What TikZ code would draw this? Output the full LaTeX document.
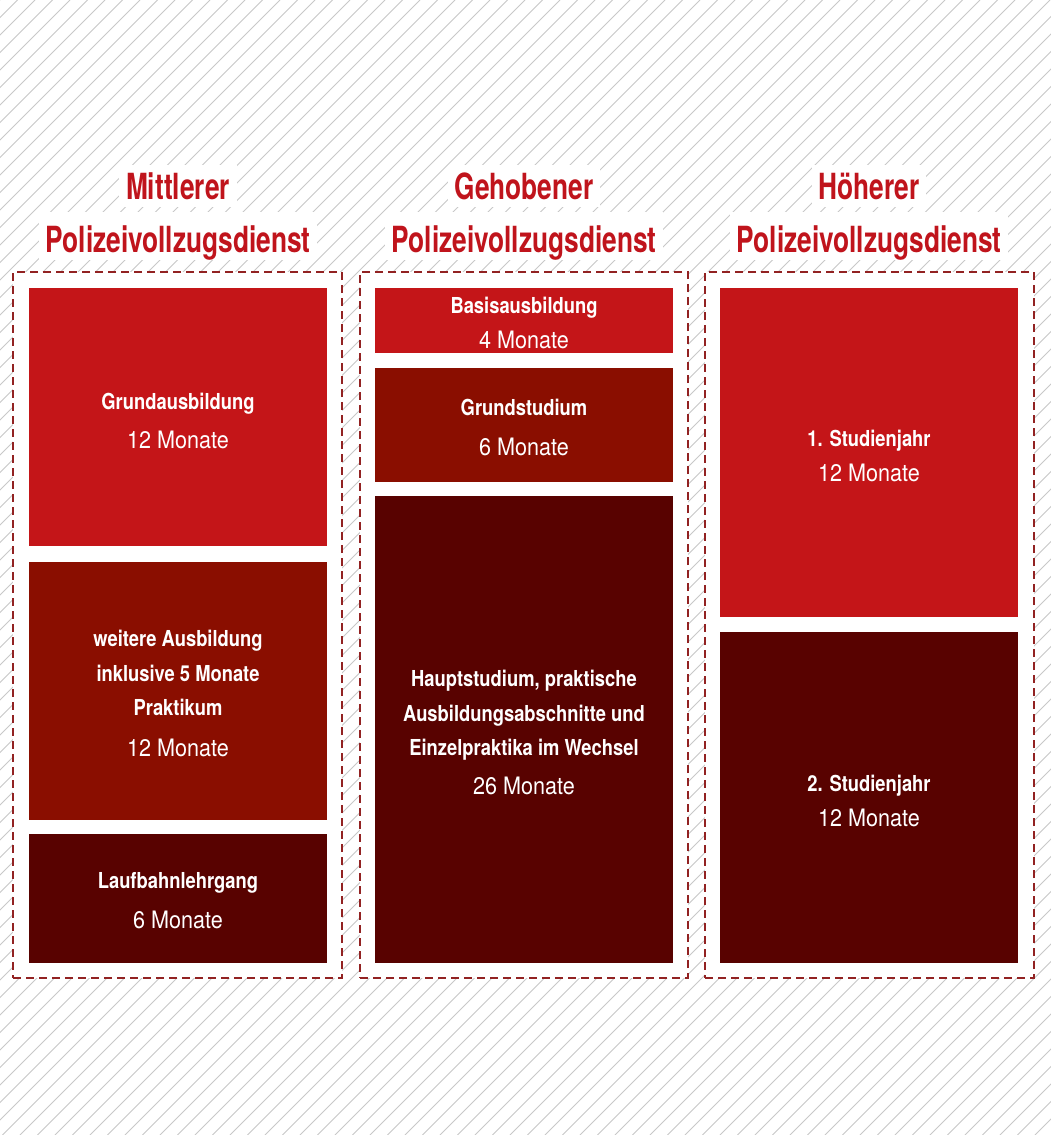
\documentclass[tikz,border=0pt]{standalone}
\usepackage{fontspec}
\newfontfamily\hdfont[FakeStretch=0.73]{TeX Gyre Heros}
\newfontfamily\lbfont[FakeStretch=0.835]{TeX Gyre Heros}
\newfontfamily\mofont[FakeStretch=0.90]{TeX Gyre Heros}
\definecolor{cA}{HTML}{C41518}
\definecolor{cB}{HTML}{8A0E00}
\definecolor{cC}{HTML}{580200}
\definecolor{cHead}{HTML}{C0141C}
\definecolor{cDash}{HTML}{922222}
\definecolor{cHatch}{HTML}{C8C8C8}
\tikzset{
  hatchline/.style={draw=cHatch, line width=0.9pt},
  frame/.style={draw=cDash, dash pattern=on 8pt off 5pt, line width=1.5pt, fill=white, inner sep=0pt, minimum width=329pt, minimum height=706pt},
  blk/.style={inner sep=0pt, draw=none, minimum width=298pt},
  lb/.style={font=\lbfont\bfseries\fontsize{22}{26}\selectfont, text=white, anchor=base, inner sep=0pt},
  mo/.style={font=\mofont\fontsize{24}{28}\selectfont, text=white, anchor=base, inner sep=0pt},
  hd/.style={font=\hdfont\bfseries\fontsize{36}{40}\selectfont, text=cHead, fill=white, anchor=base, inner xsep=7pt, inner ysep=7pt, text depth=1pt}
}
\begin{document}
\begin{tikzpicture}[x=1pt,y=-1pt]
\useasboundingbox[fill=white] (0,0) rectangle (1051,1135);
\begin{scope}
  \clip (0,0) rectangle (1051,1135);
  \foreach \i in {0,...,127} {
    \draw[hatchline] (\i*17.5-1135,1135) -- ++(1135,-1135);
  }
\end{scope}
% headings
\node[hd, text height=27pt] (t1a) at (178,199) {Mittlerer};
\node[hd, text height=33pt] (t1b) at (178,252) {Polizeivollzugsdienst};
\node[hd, text height=27pt] (t2a) at (524,199) {Gehobener};
\node[hd, text height=33pt] (t2b) at (524,252) {Polizeivollzugsdienst};
\node[hd, text height=27pt] (t3a) at (869,199) {Höherer};
\node[hd, text height=33pt] (t3b) at (869,252) {Polizeivollzugsdienst};
% frames
\node[frame] (f1) at (177.5,625) {};
\node[frame, minimum width=328pt] (f2) at (524,625) {};
\node[frame] (f3) at (869.5,625) {};
% column 1
\node[blk, fill=cA, minimum height=258pt] (g1) at (178,417) {};
\node[blk, fill=cB, minimum height=258pt] (g2) at (178,691) {};
\node[blk, fill=cC, minimum height=129pt] (g3) at (178,898.5) {};
\node[lb] (g1a) at (178,409) {Grundausbildung};
\node[mo] (g1b) at (178,448) {12 Monate};
\node[lb] (g2a) at (178,646) {weitere Ausbildung};
\node[lb] (g2b) at (178,681) {inklusive 5 Monate};
\node[lb] (g2c) at (178,715) {Praktikum};
\node[mo] (g2d) at (178,756) {12 Monate};
\node[lb] (g3a) at (178,888) {Laufbahnlehrgang};
\node[mo] (g3b) at (178,928) {6 Monate};
% column 2
\node[blk, fill=cA, minimum height=65pt] (h1) at (524,320.5) {};
\node[blk, fill=cB, minimum height=114pt] (h2) at (524,425) {};
\node[blk, fill=cC, minimum height=467pt] (h3) at (524,729.5) {};
\node[lb] (h1a) at (524,313) {Basisausbildung};
\node[mo] (h1b) at (524,348) {4 Monate};
\node[lb] (h2a) at (524,415) {Grundstudium};
\node[mo] (h2b) at (524,455) {6 Monate};
\node[lb] (h3a) at (524,686) {Hauptstudium, praktische};
\node[lb] (h3b) at (524,721) {Ausbildungsabschnitte und};
\node[lb] (h3c) at (524,755) {Einzelpraktika im Wechsel};
\node[mo] (h3d) at (524,794) {26 Monate};
% column 3
\node[blk, fill=cA, minimum height=329pt] (k1) at (869,452.5) {};
\node[blk, fill=cC, minimum height=331pt] (k2) at (869,797.5) {};
\node[lb] (k1a) at (869,446) {1. Studienjahr};
\node[mo] (k1b) at (869,481) {12 Monate};
\node[lb] (k2a) at (869,791) {2. Studienjahr};
\node[mo] (k2b) at (869,826) {12 Monate};
\end{tikzpicture}
\end{document}
